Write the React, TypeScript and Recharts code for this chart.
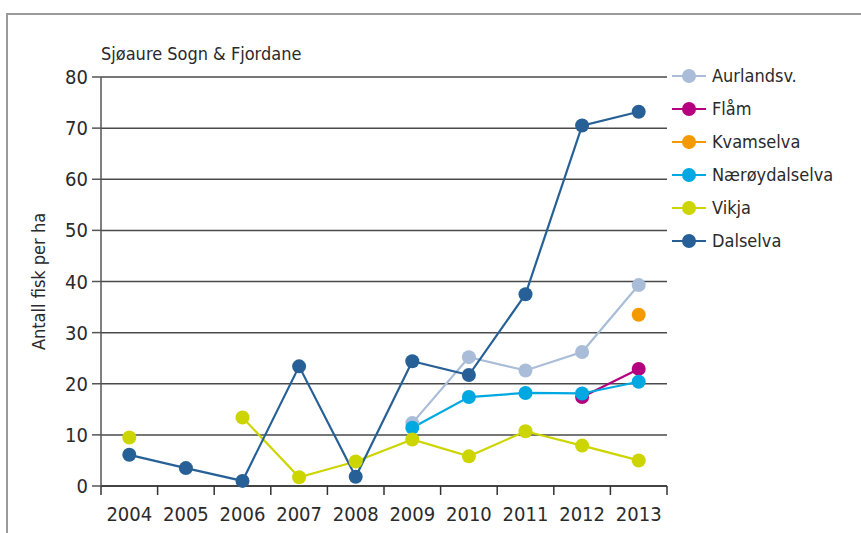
import React from "react";
import { LineChart, Line, XAxis, YAxis, CartesianGrid } from "recharts";

const years = [2004, 2005, 2006, 2007, 2008, 2009, 2010, 2011, 2012, 2013];

// values, null = no sample that year
const aurlandsv = [null, null, null, null, null, 12.3, 25.2, 22.6, 26.2, 39.3];
const flam = [null, null, null, null, null, null, null, null, 17.4, 22.9];
const kvamselva = [null, null, null, null, null, null, null, null, null, 33.5];
const naroydalselva = [null, null, null, null, null, 11.4, 17.4, 18.2, 18.1, 20.4];
const vikja = [9.5, null, 13.4, 1.7, 4.8, 9.1, 5.8, 10.7, 7.9, 5.0];
const dalselva = [6.1, 3.5, 1.0, 23.4, 1.8, 24.4, 21.7, 37.5, 70.5, 73.2];

const yTicks = [0, 10, 20, 30, 40, 50, 60, 70, 80];
const bandEdges = [2003.5, 2004.5, 2005.5, 2006.5, 2007.5, 2008.5, 2009.5, 2010.5, 2011.5, 2012.5, 2013.5];

const series = [
  { key: "aurlandsv", name: "Aurlandsv.", color: "#a9bdd8", values: aurlandsv },
  { key: "flam", name: "Flåm", color: "#b4007e", values: flam },
  { key: "kvamselva", name: "Kvamselva", color: "#f39a00", values: kvamselva },
  { key: "naroydalselva", name: "Nærøydalselva", color: "#00a8e1", values: naroydalselva },
  { key: "vikja", name: "Vikja", color: "#cdd500", values: vikja },
  { key: "dalselva", name: "Dalselva", color: "#266096", values: dalselva },
];

const data = years.map((year, i) => {
  const row: Record<string, number | null> = { year };
  series.forEach((s) => (row[s.key] = s.values[i]));
  return row;
});

const FONT = '"DejaVu Sans Condensed", "Liberation Sans Narrow", "DejaVu Sans", sans-serif';
const TEXT = "#2a2a2a";

function LegendBox() {
  return (
    <div
      style={{
        position: "absolute",
        left: 671,
        top: 59,
        fontFamily: FONT,
        fontSize: 18,
        color: TEXT,
      }}
    >
      {series.map((s) => (
        <div key={s.key} style={{ display: "flex", alignItems: "center", height: 33 }}>
          <svg width={38} height={20} style={{ marginRight: 3 }}>
            <line x1={1} y1={10} x2={35} y2={10} stroke={s.color} strokeWidth={2} />
            <circle cx={18} cy={10} r={7} fill={s.color} />
          </svg>
          <span>{s.name}</span>
        </div>
      ))}
    </div>
  );
}

export default function App() {
  return (
    <div style={{ position: "absolute", left: 0, top: 0, width: 861, height: 533, background: "#fff" }}>
      <div
        style={{
          position: "absolute",
          left: 6,
          top: 13,
          right: 0,
          bottom: 0,
          borderTop: "2px solid #9a9a9a",
          borderLeft: "2px solid #9a9a9a",
        }}
      />
      <div
        style={{
          position: "absolute",
          left: 101,
          top: 43,
          fontFamily: FONT,
          fontSize: 18,
          color: TEXT,
        }}
      >
        Sjøaure Sogn &amp; Fjordane
      </div>
      <LineChart
        width={861}
        height={533}
        data={data}
        margin={{ top: 77, right: 194, left: 0, bottom: 0 }}
        style={{ position: "absolute", left: 0, top: 0, fontFamily: FONT }}
      >
        <CartesianGrid vertical={false} stroke="#4a4a4a" strokeWidth={1.5} />
        <XAxis
          xAxisId="a"
          dataKey="year"
          type="number"
          domain={[2003.5, 2013.5]}
          ticks={bandEdges}
          interval={0}
          tickFormatter={() => ""}
          height={10}
          tickSize={9}
          stroke="#333"
          strokeWidth={1.5}
        />
        <XAxis
          xAxisId="b"
          dataKey="year"
          type="number"
          domain={[2003.5, 2013.5]}
          ticks={years}
          interval={0}
          axisLine={false}
          tickLine={false}
          tickSize={0}
          tickMargin={11}
          height={37}
          tick={{ fill: TEXT, fontSize: 20 }}
        />
        <YAxis
          domain={[0, 80]}
          ticks={yTicks}
          interval={0}
          width={101}
          tickSize={9}
          tickMargin={4}
          stroke="#555"
          strokeWidth={1.5}
          tick={{ fill: TEXT, fontSize: 20 }}
          label={{
            value: "Antall fisk per ha",
            angle: -90,
            position: "insideLeft",
            offset: 39,
            style: { textAnchor: "middle", fill: TEXT, fontSize: 18 },
          }}
        />
        {series.map((s) => (
          <Line
            key={s.key}
            xAxisId="a"
            dataKey={s.key}
            name={s.name}
            stroke={s.color}
            strokeWidth={2.2}
            dot={{ r: 7, fill: s.color, stroke: s.color, strokeWidth: 0 }}
            activeDot={false}
            isAnimationActive={false}
          />
        ))}
      </LineChart>
      <LegendBox />
    </div>
  );
}
